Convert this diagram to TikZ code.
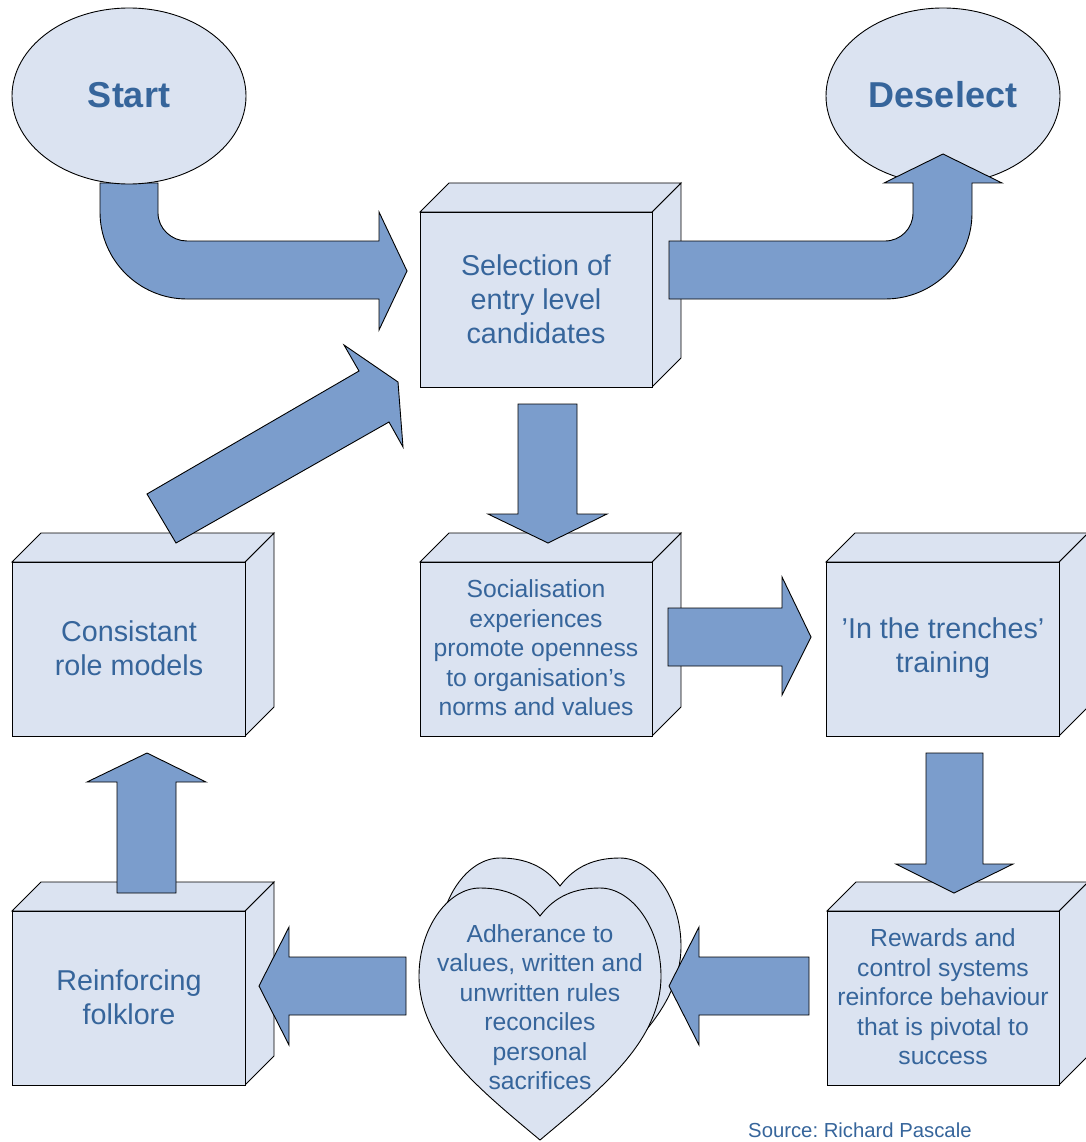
\documentclass[tikz,border=0pt]{standalone}
\usepackage{fontspec}
\setmainfont{Liberation Sans}
\frenchspacing
\definecolor{facefill}{HTML}{DBE3F1}
\definecolor{arrowfill}{HTML}{7B9DCC}
\definecolor{labelblue}{HTML}{36659B}
\tikzset{
  face/.style={fill=facefill,draw=black,line width=0.9pt,line join=miter},
  blockarrow/.style={fill=arrowfill,draw=black,line width=0.9pt,line join=miter},
  biglabel/.style={text=labelblue,align=center,inner sep=0pt,font=\fontsize{28.7}{34}\selectfont},
  smalllabel/.style={text=labelblue,align=center,inner sep=0pt,font=\fontsize{24.7}{29.5}\selectfont},
  titlelabel/.style={text=labelblue,align=center,inner sep=0pt,font=\fontsize{36}{40}\selectfont\bfseries},
}
% cuboid: front face from (#1,#2) to (#3,#4), depth 29 up and to the right
\newcommand\cuboid[4]{%
  \draw[face] (#3,#2) -- (#3+29,#2-29) -- (#3+29,#4-29) -- (#3,#4) -- cycle;
  \draw[face] (#1,#2) -- (#1+29,#2-29) -- (#3+29,#2-29) -- (#3,#2) -- cycle;
  \draw[face] (#1,#2) rectangle (#3,#4);
}
% heart outline with its top cusp at the origin
\newcommand\heartoutline{%
  (0,0) .. controls (15,-20) and (35,-28) .. (60,-28)
  .. controls (92,-28) and (121,12) .. (121,60)
  .. controls (121,125) and (62,172) .. (0,224)
  .. controls (-62,172) and (-121,125) .. (-121,60)
  .. controls (-121,12) and (-92,-28) .. (-60,-28)
  .. controls (-35,-28) and (-15,-20) .. (0,0) -- cycle}
\begin{document}
\begin{tikzpicture}[x=1pt,y=-1pt]
\useasboundingbox (0,0) rectangle (1085,1142);

% bent arrow leaving Start
\draw[blockarrow] (100,183) -- (100,212)
  .. controls (100,260) and (139,299) .. (187,299)
  -- (379,299) -- (379,330) -- (407,271) -- (379,212) -- (379,241)
  -- (187,241) .. controls (171.5,241) and (158,228.5) .. (158,213)
  -- (158,183) -- cycle;

% terminal ellipses
\draw[face] (129,96) ellipse [x radius=117pt,y radius=88pt];
\draw[face] (943,96) ellipse [x radius=117pt,y radius=88pt];
\node[titlelabel] (start) at (129,95) {Start};
\node[titlelabel] (deselect) at (943,95) {Deselect};

% cuboid boxes
\cuboid{420}{212}{652}{387}
\cuboid{420}{562}{652}{736}
\cuboid{12}{562}{245}{736}
\cuboid{826}{562}{1059}{736}
\cuboid{827}{911}{1059}{1085}
\cuboid{12}{911}{245}{1085}

% double heart
\begin{scope}[shift={(560,886)}]
  \draw[face] \heartoutline;
\end{scope}
\begin{scope}[shift={(540,916)}]
  \draw[face] \heartoutline;
\end{scope}

% box labels
\node[biglabel] (selection) at (536,299) {Selection of\\entry level\\candidates};
\node[smalllabel] (social) at (536,648) {Socialisation\\experiences\\promote openness\\to organisation’s\\norms and values};
\node[biglabel] (rolemodels) at (129,648) {Consistant\\role models};
\node[biglabel] (trenches) at (943,648) {’In the trenches’\\training};
\node[smalllabel] (rewards) at (943,997) {Rewards and\\control systems\\reinforce behaviour\\that is pivotal to\\success};
\node[biglabel] (folklore) at (129,997) {Reinforcing\\folklore};
\node[smalllabel] (adherence) at (540,1007) {Adherance to\\values, written and\\unwritten rules\\reconciles\\personal\\sacrifices};

% bent arrow into Deselect
\draw[blockarrow] (669,241) -- (885,241)
  .. controls (900.5,241) and (913,228.5) .. (913,213)
  -- (913,183) -- (884,183) -- (943,154) -- (1002,183) -- (972,183)
  -- (972,213) .. controls (972,261) and (933,299) .. (885,299)
  -- (669,299) -- cycle;

% Selection -> Socialisation
\draw[blockarrow] (518,404) -- (577,404) -- (577,514) -- (607,514)
  -- (548,543) -- (488,514) -- (518,514) -- cycle;
% Socialisation -> trenches
\draw[blockarrow] (668,608) -- (782,608) -- (782,577) -- (811,637)
  -- (782,695) -- (782,666) -- (668,666) -- cycle;
% trenches -> Rewards
\draw[blockarrow] (926,753) -- (983,753) -- (983,864) -- (1013,864)
  -- (954,893) -- (896,864) -- (926,864) -- cycle;
% Rewards -> heart
\draw[blockarrow] (809,957) -- (699,957) -- (699,927) -- (669,986)
  -- (699,1045) -- (699,1015) -- (809,1015) -- cycle;
% heart -> folklore
\draw[blockarrow] (406,957) -- (289,957) -- (289,927) -- (259,986)
  -- (289,1045) -- (289,1015) -- (406,1015) -- cycle;
% folklore -> role models
\draw[blockarrow] (117,893) -- (117,782) -- (87,782) -- (147,753)
  -- (206,782) -- (176,782) -- (176,893) -- cycle;
% role models -> Selection (tip cut flat)
\draw[blockarrow] (147,494) -- (359,371) -- (344,345) -- (398,382)
  -- (403,447) -- (389,422) -- (176,543) -- cycle;

% source note
\node[text=labelblue,anchor=west,inner sep=0pt,font=\fontsize{20.3}{23}\selectfont] (source) at (748,1130) {Source: Richard Pascale};
\end{tikzpicture}
\end{document}
